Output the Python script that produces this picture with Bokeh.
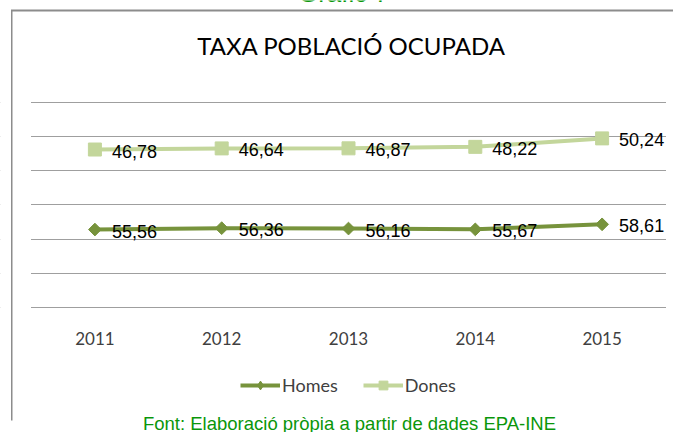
from bokeh.plotting import figure
from bokeh.models import (Range1d, FixedTicker, Label, LabelSet,
                          ColumnDataSource, Legend, LegendItem, BoxAnnotation)
from bokeh.embed import file_html
from bokeh.resources import INLINE
from bokeh.core.properties import value

# ---- data ----
years = ["2011", "2012", "2013", "2014", "2015"]
homes = [55.56, 56.36, 56.16, 55.67, 58.61]
dones = [46.78, 46.64, 46.87, 48.22, 50.24]
grid_values = [10, 30, 50, 70, 90, 110, 130]
title_text = "TAXA POBLACIÓ OCUPADA"
header_text = "Gràfic 7"
footer_text = "Font: Elaboració pròpia a partir de dades EPA-INE"

# stacked line chart: Dones drawn on top of Homes
dones_top = [h + d for h, d in zip(homes, dones)]
xs = [i + 0.5 for i in range(len(years))]
fmt = lambda v: f"{v:.2f}".replace(".", ",")

# ---- layout (page pixels) ----
W, H = 673, 432
PL, PR = 31, 665            # plot-area left / right
PTOP, PBOT = 101.7, 307     # top / bottom gridline
PPU = (PBOT - PTOP) / (grid_values[-1] - grid_values[0])
XU = (PR - PL) / len(years)

def dx(px):
    return (px - PL) / XU

def dy(py):
    return grid_values[0] + (PBOT - py) / PPU

HOMES_C = "#77933C"
DONES_C = "#C3D69B"
GRID_C = "#9f9f9f"
GREEN_T = "#0A960A"

p = figure(width=W, height=H, x_range=Range1d(dx(0), dx(W)),
           y_range=Range1d(dy(H), dy(0)), output_backend="svg",
           toolbar_location=None, min_border=0)
p.outline_line_color = None
p.background_fill_color = "white"
p.border_fill_color = "white"

p.yaxis.visible = False
p.xgrid.visible = False
p.ygrid.ticker = FixedTicker(ticks=grid_values)
p.ygrid.grid_line_color = GRID_C
p.ygrid.grid_line_width = 1

ax = p.xaxis[0]
ax.fixed_location = grid_values[0]
ax.ticker = FixedTicker(ticks=xs)
ax.major_label_overrides = {x: y for x, y in zip(xs, years)}
ax.axis_line_color = None
ax.major_tick_line_color = None
ax.minor_tick_line_color = None
ax.major_label_standoff = 18
ax.major_label_text_font = "Lato"
ax.major_label_text_font_size = "17px"
ax.major_label_text_color = "#404040"

# mask grid lines outside the plot area
p.add_layout(BoxAnnotation(left=dx(0), right=dx(PL - 0.5), top=dy(90), bottom=dy(320),
                           fill_color="white", fill_alpha=1, line_color=None))
p.add_layout(BoxAnnotation(left=dx(PR + 0.5), right=dx(W), top=dy(90), bottom=dy(320),
                           fill_color="white", fill_alpha=1, line_color=None))

src = ColumnDataSource(dict(
    x=xs, homes=homes, dones_top=dones_top,
    homes_lbl=[fmt(v) for v in homes], dones_lbl=[fmt(v) for v in dones]))

rh = p.line("x", "homes", source=src, line_color=HOMES_C, line_width=4)
mh = p.scatter("x", "homes", source=src, marker="square", angle=0.785398,
               size=9, fill_color=HOMES_C, line_color=HOMES_C)
rd = p.line("x", "dones_top", source=src, line_color=DONES_C, line_width=4)
md = p.scatter("x", "dones_top", source=src, marker="square", size=13,
               fill_color=DONES_C, line_color=DONES_C)
# legend-only proxy for the diamond marker (NaN point, never drawn in the plot)
mh_leg = p.scatter([float("nan")], [float("nan")], marker="diamond", size=14,
                   fill_color=HOMES_C, line_color=HOMES_C)

for col, ycol in (("homes_lbl", "homes"), ("dones_lbl", "dones_top")):
    p.add_layout(LabelSet(x="x", y=ycol, text=col, source=src, x_offset=17,
                          y_offset=-8, text_baseline="alphabetic",
                          text_font=value("Liberation Sans"),
                          text_font_size="18px", text_color="black"))

legend = Legend(items=[LegendItem(label="Homes", renderers=[rh, mh_leg]),
                       LegendItem(label="Dones", renderers=[rd, md])],
                orientation="horizontal", location=(240, H - 396),
                glyph_width=40, glyph_height=22, label_height=22,
                label_standoff=2, spacing=25, padding=0, margin=0,
                border_line_color=None, background_fill_alpha=0,
                label_text_font="Lato", label_text_font_size="18px",
                label_text_color="#404040")
p.add_layout(legend)

p.add_layout(Label(x=dx(351), y=dy(45), text=title_text, text_align="center",
                   text_baseline="middle", text_font="Lato",
                   text_font_size="24px", text_color="black"))
p.add_layout(Label(x=dx(343), y=dy(-7.5), text=header_text, text_align="center",
                   text_baseline="middle", text_font="Liberation Sans",
                   text_font_size="26px", text_color=GREEN_T))
p.add_layout(Label(x=dx(349), y=dy(423.4), text=footer_text, text_align="center",
                   text_baseline="middle", text_font="Liberation Sans",
                   text_font_size="18.5px", text_color=GREEN_T))

# chart frame border (left and top)
p.add_layout(BoxAnnotation(left=dx(10.5), right=dx(12), top=dy(10), bottom=dy(420),
                           fill_color="#8c8c8c", fill_alpha=1, line_color=None))
p.add_layout(BoxAnnotation(left=dx(10.5), right=dx(W), top=dy(9), bottom=dy(11),
                           fill_color="#8c8c8c", fill_alpha=1, line_color=None))

open("out.html", "w").write(file_html(p, INLINE))
